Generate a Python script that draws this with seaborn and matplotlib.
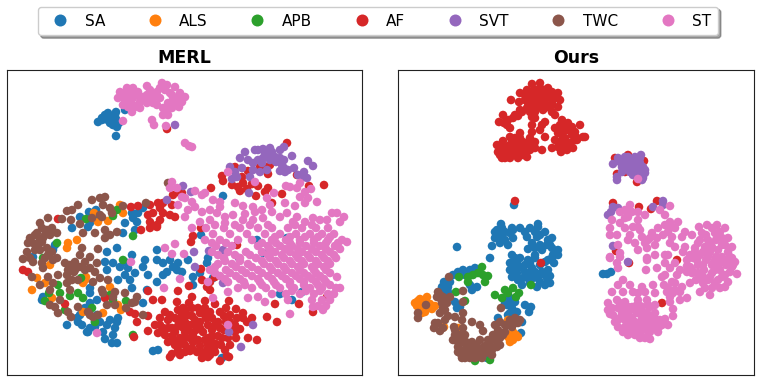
import matplotlib
matplotlib.use('Agg')
import matplotlib.pyplot as plt
import pandas as pd
import seaborn as sns

CLASSES = ['SA', 'ALS', 'APB', 'AF', 'SVT', 'TWC', 'ST']
COLORS = ['#1f77b4', '#ff7f0e', '#2ca02c', '#d62728', '#9467bd', '#8c564b', '#e377c2']

# embedding coordinates
MERL_SA = [(98,122),(102,118),(105,115),(108,113),(116,112),(113,117),(108,120),(112,123),(117,127),(119,123),(115,122),(116,136),(125,110),
    (110,116),(112,119),(105,119),(110,123),(113,125),(116,119),(115,115),(102,120),
    (33,257),(55,245),(53,250),(72,228),(88,227),(123,233),(135,230),(117,248),(107,252),(132,255),(105,262),(107,270),(113,263),(120,267),(125,262),(128,268),(135,273),(125,275),(118,280),(130,280),(132,288),(145,260),(143,267),(148,275),(157,250),(157,260),(163,263),(170,260),(178,263),(177,270),(167,272),(163,275),(173,267),(157,282),(147,290),(143,303),(90,293),(90,288),(97,300),(43,297),(42,300),(67,325),(78,322),(87,332),(95,327),(100,322),(103,332),(117,322),(115,328),(117,343),(105,339),(90,303),(80,315),(77,318),(107,325),(118,318),(153,351),(158,350),(88,332),(85,308),(95,322),(90,328),(82,325),(110,320),(113,335),(97,315),(112,343),
    (80,217),(89,212),(96,210),(132,213),(133,218),(143,208),(138,213),(125,223),(137,222),(90,223),(95,217),
    (201,235),(188,260),(182,272),(193,285),(208,258),(207,263),(193,277),(200,273),(213,278),(263,253),(287,238),(280,294),(292,300),(302,292),(257,240),(222,358),(223,196)]
MERL_ALS = [(77,240),(68,243),(67,248),(32,290),(37,278),(85,280),(83,283),(86,277),(52,298),(118,305),(121,310),(83,312),(103,313),(45,283),(110,287),(50,265),(120,205),(123,213),(108,221),(98,222),(94,213)]
MERL_APB = [(133,236),(43,258),(57,243),(123,260),(81,278),(58,285),(60,293),(49,293),(45,301),(70,296),(78,293),(83,298),(92,308),(110,295),(113,300),(126,301),(95,322),(133,335),(65,310),(86,219),(113,216),(117,210)]
MERL_AF = [(58,219),(131,207),(138,206),(150,205),(163,203),(158,203),(172,205),(160,208),(153,213),(148,215),(163,213),(170,215),(175,217),(160,220),(150,222),(157,225),(173,195),(180,193),(167,129),
    (23,270),(28,272),(65,304),(105,298),(148,291),(153,300),(162,300),(178,291),(177,302),(130,312),(135,314),(137,322),(148,331),(134,337),(148,316),(141,230),(150,228),(157,227),
    (155,325),(160,318),(165,312),(168,320),(163,328),(158,333),(165,335),(172,328),(175,318),(178,310),(182,315),(185,322),(178,326),(172,336),(168,342),(175,345),(180,338),(185,332),(190,325),(192,316),(189,303),(192,297),(204,314),(200,322),(196,330),(190,338),(185,345),(178,350),(172,354),(170,357),(185,352),(192,348),(198,340),(203,332),(208,325),(212,318),(205,301),(215,304),(226,308),(224,316),(218,322),(212,330),(208,338),(203,353),(197,352),(207,350),(213,343),(218,336),(224,330),(230,322),(236,309),(243,313),(243,318),(247,322),(252,318),(257,340),(248,338),(240,329),(235,325),(228,338),(221,345),(215,352),(220,361),(227,356),(229,357),(214,349),(208,357),(190,351),(229,301),(198,308),(185,310),
    (170,315),(183,308),(195,320),(205,308),(210,312),(220,312),(230,315),(237,318),(182,320),(175,332),(168,328),(160,325),(188,330),(193,335),(200,328),(205,340),(212,336),(220,328),(226,322),(232,330),(222,338),(216,344),(230,345),(236,338),(208,345),(200,346),(193,342),(180,344),(185,338),(174,340),(192,308),(200,313),(215,325),(178,320),(188,315),(182,327),(206,318),(196,324),(235,332),(210,355),(202,358),(225,350),(180,355),
    (267,317),(277,322),(275,304),(299,304),(313,312),(327,297),
    (201,228),(193,236),(191,242),(237,245),(201,269),(202,280),(207,287),(210,290),(189,286),(215,277),(210,282),
    (287,143),(222,176),(223,181),(232,185),(238,187),(243,183),(242,177),(248,171),(235,167),(247,189),(240,191),(252,184),(258,186),(256,196),(265,192),(268,188),(282,194),(211,188),(260,167),(265,167),(270,165),(268,174),(297,175),(309,186),(324,185),(182,193),(272,203)]
MERL_SVT = [(245,152),(255,150),(263,149),(270,148),(280,150),(284,147),(240,158),(248,160),(258,160),(263,158),(268,155),(275,157),(280,158),(292,156),(282,165),(280,171),(284,168),(294,168),(308,161),(313,166),(304,172),(298,175),(304,177),(307,178),(230,167),(235,172),(242,168),(232,179),(237,177),(250,177),(253,170),(260,172),(267,170),(249,193),(183,186),(191,192),
    (258,150),(265,153),(272,152),(262,163),(270,160),(276,162),(253,163),(284,160),(288,170),(285,172),
    (175,125),(167,200),(194,252),(209,251),(223,250),(223,283),(239,258),(253,325),(229,332),(241,347),(195,267)]
MERL_TWC = [(23,259),(27,252),(30,238),(28,243),(33,243),(38,247),(42,242),(37,233),(42,228),(47,230),(52,228),(57,233),(43,238),(47,248),(48,255),(53,260),(57,258),(45,258),(42,263),(33,262),(32,277),(40,285),(48,277),(43,268),(65,263),(72,265),(80,255),(82,248),(90,257),(98,249),(97,263),(83,233),(95,233),(105,230),(110,235),(117,232),(105,238),(95,272),(90,268),(80,267),(75,270),(72,280),(67,275),(67,283),(58,275),(53,283),(50,290),(70,290),(78,280),(93,282),(100,278),(108,280),(102,290),(103,293),(115,292),(113,297),(125,293),(115,305),(107,305),(78,307),(55,307),(50,305),(60,300),(58,313),(68,312),(71,317),(88,312),(93,317),(90,315),(98,315),(126,308),(132,303),(135,302),(137,297),(143,315),
    (35,235),(40,240),(35,250),(45,235),(50,235),(40,250),(30,258),(52,252),(68,270),(85,270),(75,262),(85,262),(74,272),(70,265),
    (92,200),(100,198),(105,197),(78,205),(72,210),(67,211),(103,205),(110,208),(112,213),(100,215),(123,206),(146,203),(48,218),(40,223),(62,219),(71,220),(80,224),(102,217),(92,218),(168,183)]
MERL_ST = [(147,86),(162,83),(167,85),(175,87),(180,93),(185,97),(182,102),(179,107),(173,100),(168,103),(165,110),(163,115),(168,115),(167,112),(157,92),(152,93),(153,103),(157,105),(147,103),(143,97),(138,92),(133,88),(127,88),(120,92),(118,98),(125,100),(123,105),(128,107),(132,112),(135,107),(140,102),(133,98),(128,95),(147,95),(160,98),(170,93),
    (150,90),(155,97),(165,90),(172,95),(176,103),(172,108),(137,95),(130,103),(142,98),(148,100),(125,93),(140,108),(133,105),(160,88),(178,98),(170,105),(163,108),(167,107),(130,92),(122,96),
    (152,120),(154,125),(166,126),(123,121),(185,143),(189,146),(192,147),
    (131,262),(165,248),(175,244),(172,254),(184,254),(180,279),(164,288),(97,333),(172,182),(170,188),(177,188),(182,197),(178,205),(185,217),(188,210),(228,172),(255,182),
    (286,186),(290,187),(300,183),(297,188),(311,189),(305,192),(300,197),(308,198),(317,202),(295,206),(305,203),(274,193),(267,198),(285,203),(270,205),(253,207),(243,206),(235,203),(213,200),(220,202),(205,193),(195,191),(202,195),(185,198),(192,202),(195,207),(202,212),(210,210),(220,207),(217,213),(225,217),(233,215),(245,214),(210,220),(255,212),(262,210),(272,212),(287,213),(280,217),(297,217),(313,218),(332,213),(337,213),(344,217),(340,222),(327,220),(320,220),(305,222),(293,222),(263,218),(253,220),(243,220),(200,222),(225,223),
    (192,228),(206,228),(224,228),(240,228),(258,228),(272,228),(288,228),(302,228),(316,228),(328,228),
    (213,234),(230,234),(247,234),(265,234),(280,234),(296,234),(310,234),(322,234),(334,234),
    (205,240),(220,240),(238,240),(252,240),(272,240),(286,240),(300,240),(314,240),(328,240),(342,240),
    (216,246),(232,246),(258,246),(268,246),(280,246),(292,246),(306,246),(320,246),(335,246),(347,242),
    (212,252),(228,252),(246,252),(262,252),(275,252),(290,252),(302,252),(316,252),(330,252),
    (224,258),(240,258),(256,258),(270,258),(284,258),(298,258),(310,258),(324,258),(336,258),
    (218,264),(232,264),(248,264),(264,264),(278,264),(292,264),(304,264),(318,264),(330,264),
    (210,270),(226,270),(242,270),(258,270),(272,270),(286,270),(300,270),(314,270),(326,270),
    (220,276),(236,276),(252,276),(268,276),(282,276),(296,276),(308,276),(320,276),(337,277),
    (208,282),(228,282),(244,282),(260,282),(274,282),(290,282),(304,282),(316,282),(326,282),
    (238,288),(252,288),(266,288),(280,288),(294,288),(310,288),(322,288),(336,288),(340,288),
    (272,294),(286,294),(300,294),(314,294),(328,294),(334,294),
    (288,300),(312,300),(322,300),(330,300),(318,306),(326,306),
    (323,310),(313,307),(290,314),(265,302),(258,297),(248,298),(228,292),(213,298),(228,325),
    (275,237),(290,237),(305,237),(318,237),(330,237),(262,243),(276,243),(290,243),(300,243),(314,243),(326,243),(338,243),
    (270,249),(285,249),(298,249),(312,249),(326,249),(340,249),(268,255),(282,255),(296,255),(308,255),(322,255),(334,255),
    (262,261),(276,261),(290,261),(302,261),(316,261),(328,261),(270,267),(284,267),(298,267),(312,267),(324,267),
    (215,273),(230,273),(246,273),(262,273),(278,273),(292,273),(304,273),(316,273),(330,273),
    (225,279),(240,279),(258,279),(272,279),(286,279),(300,279),(312,279),(324,279),
    (245,285),(262,285),(276,285),(290,285),(304,285),(318,285),(330,285),(292,291),(306,291),(320,291),
    (215,225),(235,225),(250,225),(268,225),(295,225),(312,225),(225,261),(240,261),(215,267),(236,267),(252,267),(212,243),(226,243),(218,255),(235,255),(250,255)]

OURS_SA = [(514,205),(457,247),(492,246),(497,230),(502,228),(510,233),(513,238),(520,228),(530,228),(538,227),(545,232),(552,238),(558,250),(558,255),(547,245),(537,237),(527,237),(495,238),(505,240),(508,245),(535,248),(542,250),(528,249),(490,258),(512,255),(510,263),(520,258),(528,260),(522,267),(532,268),(542,272),(548,270),(554,263),(550,283),(545,285),(537,287),(547,278),(538,278),(528,278),(522,285),(512,277),(517,273),(501,224),(538,224),
    (500,235),(505,232),(512,228),(525,232),(535,232),(540,235),(548,240),(550,245),(553,255),(515,262),(518,268),(525,265),(530,273),(535,272),(540,265),(545,262),(552,258),(548,260),(535,258),(530,263),(525,272),(515,258),(518,280),(530,283),(540,282),(550,276),(545,275),(513,268),(510,270),(535,255),(552,248),(500,243),(513,230),(517,262),(523,278),(533,278),(495,232),(540,245),(532,243),
    (507,305),(512,308),(510,313),(517,312),(498,318),(525,305),(531,307),(529,312),(521,333),(522,322),(505,298),(515,302),(505,303),(512,303),(510,298),(508,315),(515,318),
    (463,270),(475,268),(470,275),(453,275),(442,287),(448,287),(450,282),(470,285),(472,290),(477,287),(445,293),(455,302),(457,308),(460,307),(487,358),(470,270),(465,275),(458,272),(448,292),(444,282),
    (603,274),(607,274),(611,272)]
OURS_ALS = [(415,303),(420,299),(427,297),(423,307),(428,308),(435,306),(425,312),(420,305),(422,313),(444,327),(458,328),(513,332),(518,337),(510,342),(508,337),(513,340),(508,320),(417,306),(425,300),(430,304),(418,301),(426,308),(432,309),(510,336),(516,335),(512,336)]
OURS_APB = [(459,277),(468,277),(468,282),(473,275),(478,273),(482,267),(483,275),(488,276),(485,282),(456,292),(531,285),(495,295),(502,298),(505,290),(513,288),(508,293),(519,293),(516,297),(475,361),(490,360),(465,301)]
OURS_AF = [(532,84),(540,83),(548,88),(558,93),(560,100),(558,107),(552,112),(543,110),(535,112),(530,107),(525,100),(520,93),(527,90),(535,90),(542,93),(548,97),(538,102),(532,98),(545,103),(537,107),(511,100),(519,102),(520,110),(515,115),(503,115),(499,122),(508,120),(510,128),(532,117),(532,125),(532,132),(542,125),(545,122),(540,130),(545,137),(555,115),(562,120),(568,123),(580,125),(555,128),(558,133),(567,130),(575,132),(583,137),(555,140),(565,138),(575,140),(552,148),(561,152),(567,150),(573,148),(563,145),(572,135),
    (525,95),(530,92),(538,95),(544,90),(552,92),(555,98),(552,103),(545,108),(535,96),(528,103),(541,98),(533,104),(527,108),(522,112),(518,116),(530,112),(540,106),(550,107),(540,88),(547,92),(532,110),(535,118),(513,118),(507,125),(504,123),(560,125),(565,125),(570,130),(572,127),(560,130),(562,135),(570,143),(560,142),(558,147),(567,145),(576,137),
    (497,145),(503,141),(510,137),(520,133),(530,138),(532,145),(523,142),(515,142),(507,147),(498,152),(502,158),(510,158),(518,155),(527,157),(535,148),(542,150),(512,150),(520,150),(527,150),(505,153),(515,138),
    (500,150),(503,147),(510,145),(515,147),(520,145),(525,147),(530,150),(507,155),(512,155),(518,158),(525,152),(500,155),(505,158),(520,138),(512,140),(528,143),(535,142),(515,152),(523,155),
    (515,201),(585,137),(577,140),(541,263),(615,158),(628,155),(644,161),(617,174),(625,172),(637,182),(613,203),(639,207),(657,201),(651,209),(616,251),(677,260),(662,303),(629,263)]
OURS_SVT = [(613,164),(618,158),(625,157),(635,157),(641,155),(643,167),(645,173),(642,180),(637,173),(630,167),(622,172),(617,180),(617,177),(633,163),(640,163),(628,162),(625,167),(638,168),
    (620,162),(625,162),(630,160),(635,162),(640,158),(630,172),(635,168),(640,175),(643,178),(645,170),(633,175),(638,160),(628,157),(622,167),(638,177),(632,170),
    (608,215),(611,212),(613,207),(618,208),(663,201),(663,205),(653,207),(613,246),(628,262)]
OURS_TWC = [(426,305),(418,313),(418,318),(449,277),(463,291),(463,302),(438,292),(437,297),(443,297),(450,297),(442,303),(447,303),(443,308),(440,313),(448,316),(455,317),(463,313),(462,320),(472,322),(438,323),(434,328),(440,331),(443,328),(454,327),(463,328),(465,335),(455,335),(453,340),(462,342),(458,352),(467,347),(472,342),(465,358),(468,353),(475,350),(480,340),(482,348),(485,353),(492,355),(490,345),(497,347),(500,345),(493,335),(498,330),(505,332),(500,322),(508,325),(515,323),(520,320),(515,318),(480,325),(483,331),(477,355),(480,357),(501,308),(488,340),(475,358),(460,353),
    (445,300),(440,295),(445,310),(440,298),(455,330),(460,335),(458,342),(466,342),(470,348),(476,345),(486,350),(480,350),(473,352),(470,358),(464,350),(458,347),(462,358),(485,346),(492,350),(495,340),(500,338),(503,335),(498,336),(505,325),(510,320),(495,325),(512,327),(518,323),(478,350),(488,352),(482,358),(470,355),(475,346),(456,340),(445,320),(435,323)]
OURS_ST = [(638,179),(630,205),(625,210),(638,212),(645,215),(612,220),(610,228),(610,235),(617,235),(620,223),(628,217),(633,227),(638,227),(642,237),(652,233),(658,228),(663,235),(657,238),(645,243),(635,243),(655,245),(647,248),(638,250),(618,245),(620,253),(610,257),(670,206),(660,210),(665,215),(670,222),(678,222),(672,227),(685,232),(672,237),(682,237),(670,243),(692,235),(699,227),(707,225),(717,225),(725,228),(702,233),(715,233),(722,238),(708,240),(698,243),(725,245),(732,247),(712,247),(718,250),(703,252),(695,252),(685,247),(675,247),(683,252),(665,255),(655,255),(647,258),(730,257),
    (737,274),(732,267),(725,287),(710,295),(700,292),(690,283),(672,282),(680,270),(675,263),(668,255),(647,260),(646,270),(657,268),(662,277),(715,270),(722,277),(708,280),(698,273),(690,267),(708,257),(722,257),(728,260),(697,260),(715,283),(728,282),(703,283),(692,273),(718,265),(703,265),(712,273),(687,260),(687,272),
    (620,257),(610,258),(617,263),(618,268),(623,280),(618,285),(630,285),(612,292),(623,292),(642,287),(633,292),(653,285),(655,293),(645,292),(638,293),(668,288),(675,283),(682,287),(667,292),(673,293),(687,298),(680,300),(670,302),(673,309),(673,316),(655,305),(647,300),(638,300),
    (608,303),(608,310),(617,300),(625,302),(632,307),(618,308),(613,315),(625,313),(637,313),(647,313),(655,313),(665,319),(668,325),(658,332),(655,325),(645,322),(635,322),(625,320),(618,320),(618,327),(628,328),(638,330),(648,332),(650,339),(640,338),(632,333),(623,332),(643,327),(652,318),(630,317),(662,325),(640,306),(628,312),(650,307),
    (612,308),(620,303),(628,307),(635,310),(642,318),(650,325),(655,319),(660,326),(640,323),(632,325),(625,327),(622,313),(615,322),(630,310),(637,305),(642,307),(648,319),(645,328),(650,332),(635,335),(628,335),(640,333),(632,318),(620,318),(610,314),(622,308),(653,322),(643,313),(660,320),(630,322),(636,328),(645,338),(655,328),(648,305),
    (700,240),(706,235),(712,228),(720,232),(728,238),(705,247),(716,240),(722,245),(728,252),(732,258),(710,252),(716,257),(698,265),(704,270),(712,265),(720,270),(726,265),(730,272),(735,262),(693,258),(700,255),(706,260),(714,262),(720,262),(725,275),(718,280),(710,277),(703,277),(696,280),(692,270),(687,266),(690,255),(695,248),(705,288),(712,288),(720,288),(733,265),(710,243),(718,235),
    (665,263),(670,268),(677,275),(665,275),(675,290),(670,297),(664,285),(680,292),(620,212),(632,212),(625,228),(630,235),(625,218),(638,220),(628,240),(640,230),(648,240),(650,238),(668,232),(665,225),(675,228)]

MERL = [MERL_SA, MERL_ALS, MERL_APB, MERL_AF, MERL_SVT, MERL_TWC, MERL_ST]
OURS = [OURS_SA, OURS_ALS, OURS_APB, OURS_AF, OURS_SVT, OURS_TWC, OURS_ST]

W, H = 761, 382


def to_frame(groups):
    rows = []
    for name, pts in zip(CLASSES, groups):
        rows += [(x, y, name) for x, y in pts]
    return pd.DataFrame(rows, columns=['x', 'y', 'label'])


def draw_panel(fig, groups, title, left, right):
    ax = fig.add_axes([left / W, 1 - 375 / H, (right - left) / W, 305 / H])
    sns.scatterplot(data=to_frame(groups), x='x', y='y', hue='label', hue_order=CLASSES,
                    palette=COLORS, s=38, linewidth=0, ax=ax)
    ax.set_xlim(left, right)
    ax.set_ylim(375, 70)
    ax.set_xticks([])
    ax.set_yticks([])
    ax.set_xlabel('')
    ax.set_ylabel('')
    ax.set_title(title, fontsize=12.5, fontweight='bold', color='black', pad=5)
    for spine in ax.spines.values():
        spine.set_color('#222222')
        spine.set_linewidth(0.8)
    return ax


def main():
    sns.set_style('white')
    fig = plt.figure(figsize=(W / 100, H / 100), dpi=100)
    ax = draw_panel(fig, MERL, 'MERL', 7, 362)
    ax2 = draw_panel(fig, OURS, 'Ours', 398, 754)

    handles, labels = ax.get_legend_handles_labels()
    ax.get_legend().remove()
    ax2.get_legend().remove()
    fig.legend(handles, labels, loc='center', bbox_to_anchor=(378 / W, 1 - 21 / H), ncol=7,
               fontsize=11, fancybox=True, shadow=True, frameon=True, framealpha=1,
               labelcolor='black', markerscale=1.4, columnspacing=2.25, handletextpad=0.6, borderpad=0.45)
    fig.savefig('out.png', dpi=100)


if __name__ == '__main__':
    main()
